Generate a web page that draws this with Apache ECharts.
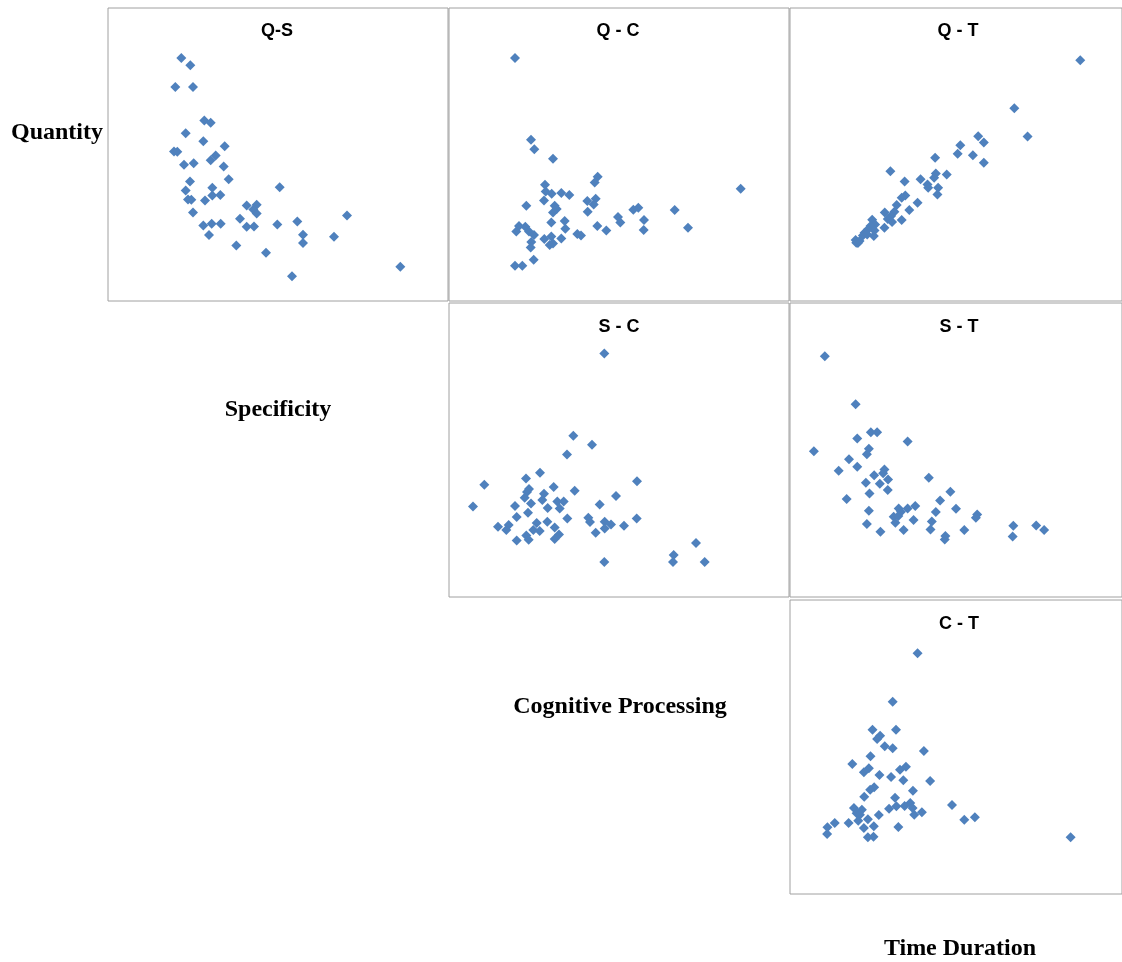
<!DOCTYPE html>
<html>
<head>
<meta charset="utf-8">
<script src="https://cdn.jsdelivr.net/npm/echarts@6/dist/echarts.min.js"></script>
<style>
html,body{margin:0;padding:0;background:#fff;}
#chart{width:1122px;height:962px;}
</style>
</head>
<body>
<div id="chart"></div>
<script>
// Values (no axes in the original: arbitrary units per panel)
const panelTitles = ['Q-S', 'Q - C', 'Q - T', 'S - C', 'S - T', 'C - T'];
const variableLabels = ['Quantity', 'Specificity', 'Cognitive Processing', 'Time Duration'];

const qsPoints = [
  [220,730],[247,708],[202,643],[255,643],[289,542],[308,535],[233,504],[286,480],
  [350,465],[198,449],[208,448],[323,437],[308,423],[228,409],[257,414],[347,404],
  [362,366],[246,359],[515,342],[313,340],[233,332],[313,317],[337,318],[240,305],
  [250,304],[291,302],[416,287],[446,289],[436,275],[446,263],[255,266],[717,257],
  [396,247],[568,239],[286,227],[311,232],[338,232],[416,223],[438,224],[508,230],
  [303,198],[585,199],[678,193],[585,174],[385,167],[474,145],[877,103],[552,74]
];
const qcPoints = [
  [201,730],[249,484],[259,456],[315,427],[449,373],[440,356],[291,349],[878,337],
  [293,329],[311,322],[340,324],[364,318],[288,302],[418,300],[443,307],[437,290],
  [235,286],[320,286],[326,276],[556,274],[571,280],[680,273],[315,266],[419,268],
  [510,252],[517,236],[588,243],[350,240],[310,236],[213,225],[232,223],[448,225],
  [352,217],[475,212],[587,213],[720,220],[205,209],[243,209],[258,198],[388,201],
  [399,197],[250,177],[248,161],[289,186],[310,194],[340,188],[305,168],[315,173],
  [257,124],[201,106],[223,106]
];
const qtPoints = [
  [881,723],[682,579],[722,494],[573,495],[590,476],[519,468],[511,442],[557,438],
  [590,415],[443,430],[308,390],[478,380],[445,383],[440,370],[399,366],[351,359],
  [420,350],[422,340],[452,340],[450,320],[353,317],[342,310],[390,295],[327,288],
  [365,273],[320,268],[291,266],[310,255],[300,246],[342,243],[313,237],[253,244],
  [290,220],[262,230],[248,225],[240,215],[260,212],[230,205],[258,195],[225,197],
  [238,200],[203,183],[210,174],[205,175],[215,180]
];
const scPoints = [
  [469,731],[376,484],[432,457],[357,428],[276,373],[234,356],[567,348],[109,337],
  [317,330],[243,324],[380,319],[237,315],[288,310],[504,303],[230,298],[283,291],
  [328,287],[347,287],[249,281],[455,278],[75,272],[201,273],[299,267],[335,266],
  [240,253],[206,240],[358,236],[421,238],[566,236],[426,225],[470,226],[489,218],
  [470,206],[528,214],[298,226],[266,222],[182,216],[150,211],[175,201],[320,209],
  [256,201],[275,198],[443,193],[333,188],[235,185],[320,174],[206,170],[242,172],
  [744,162],[677,126],[675,105],[469,105],[770,105]
];
const stPoints = [
  [110,723],[203,579],[249,495],[268,495],[208,476],[360,467],[77,438],[243,445],
  [237,429],[183,414],[208,391],[152,379],[290,383],[286,372],[259,366],[301,353],
  [424,358],[234,343],[276,340],[300,321],[489,316],[245,311],[176,294],[458,290],
  [383,273],[360,266],[333,266],[506,265],[340,256],[445,255],[243,259],[570,248],
  [566,238],[318,241],[332,243],[378,231],[433,227],[323,223],[237,219],[679,214],
  [748,215],[772,201],[348,201],[429,203],[531,201],[278,196],[474,183],[472,173],
  [677,182]
];
const ctPoints = [
  [390,722],[315,577],[254,493],[325,493],[277,475],[268,465],[291,443],[315,437],
  [409,429],[248,413],[193,390],[355,382],[243,377],[337,373],[228,365],[275,357],
  [310,351],[347,341],[428,339],[259,320],[247,313],[376,310],[229,292],[322,289],
  [494,267],[368,273],[351,264],[326,263],[304,256],[375,258],[198,258],[222,253],
  [206,242],[380,238],[403,245],[273,237],[216,238],[563,230],[531,223],[140,213],
  [182,213],[211,220],[240,224],[118,200],[228,198],[258,203],[332,201],[117,180],
  [240,170],[257,172],[852,170]
];

const panelData = [qsPoints, qcPoints, qtPoints, scPoints, stPoints, ctPoints];

// layout of the panels (pixels) and the value range each panel spans
const panels = [
  {left:108, top:8,   width:340, height:293, xMin:0, xMax:1020, yMax:880, tx:277, ty:31},
  {left:449, top:8,   width:340, height:293, xMin:3, xMax:1023, yMax:880, tx:618, ty:31},
  {left:790, top:8,   width:334, height:293, xMin:5, xMax:1007, yMax:880, tx:958, ty:31},
  {left:449, top:303, width:340, height:294, xMin:3, xMax:1023, yMax:883, tx:619, ty:327},
  {left:790, top:303, width:334, height:294, xMin:5, xMax:1007, yMax:883, tx:959, ty:327},
  {left:790, top:600, width:334, height:294, xMin:5, xMax:1007, yMax:882, tx:959, ty:624}
];

const labelPos = [[57,133],[278,410],[620,707],[960,949]];

const chart = echarts.init(document.getElementById('chart'), null, {renderer:'canvas'});

const grids = [], xAxes = [], yAxes = [], series = [], graphics = [];
panels.forEach((p, i) => {
  grids.push({
    left:p.left, top:p.top, width:p.width, height:p.height,
    show:true, borderColor:'#a0a0a0', borderWidth:1, backgroundColor:'#fff'
  });
  xAxes.push({type:'value', gridIndex:i, min:p.xMin, max:p.xMax, show:false});
  yAxes.push({type:'value', gridIndex:i, min:0, max:p.yMax, show:false});
  series.push({
    type:'scatter', xAxisIndex:i, yAxisIndex:i, data:panelData[i],
    symbol:'diamond', symbolSize:10,
    itemStyle:{color:'#4F81BD', opacity:1}, silent:true, animation:false
  });
  graphics.push({
    type:'text', x:p.tx, y:p.ty,
    style:{text:panelTitles[i], fill:'#000', font:'bold 18px "Liberation Sans", Arial, sans-serif',
      textAlign:'center', textVerticalAlign:'middle'}
  });
});
variableLabels.forEach((t, i) => {
  graphics.push({
    type:'text', x:labelPos[i][0], y:labelPos[i][1],
    style:{text:t, fill:'#000', font:'bold 24px "Liberation Serif", "Times New Roman", serif',
      textAlign:'center', textVerticalAlign:'middle'}
  });
});

chart.setOption({
  backgroundColor:'#fff',
  animation:false,
  grid:grids, xAxis:xAxes, yAxis:yAxes, series:series, graphic:graphics
});
</script>
</body>
</html>
